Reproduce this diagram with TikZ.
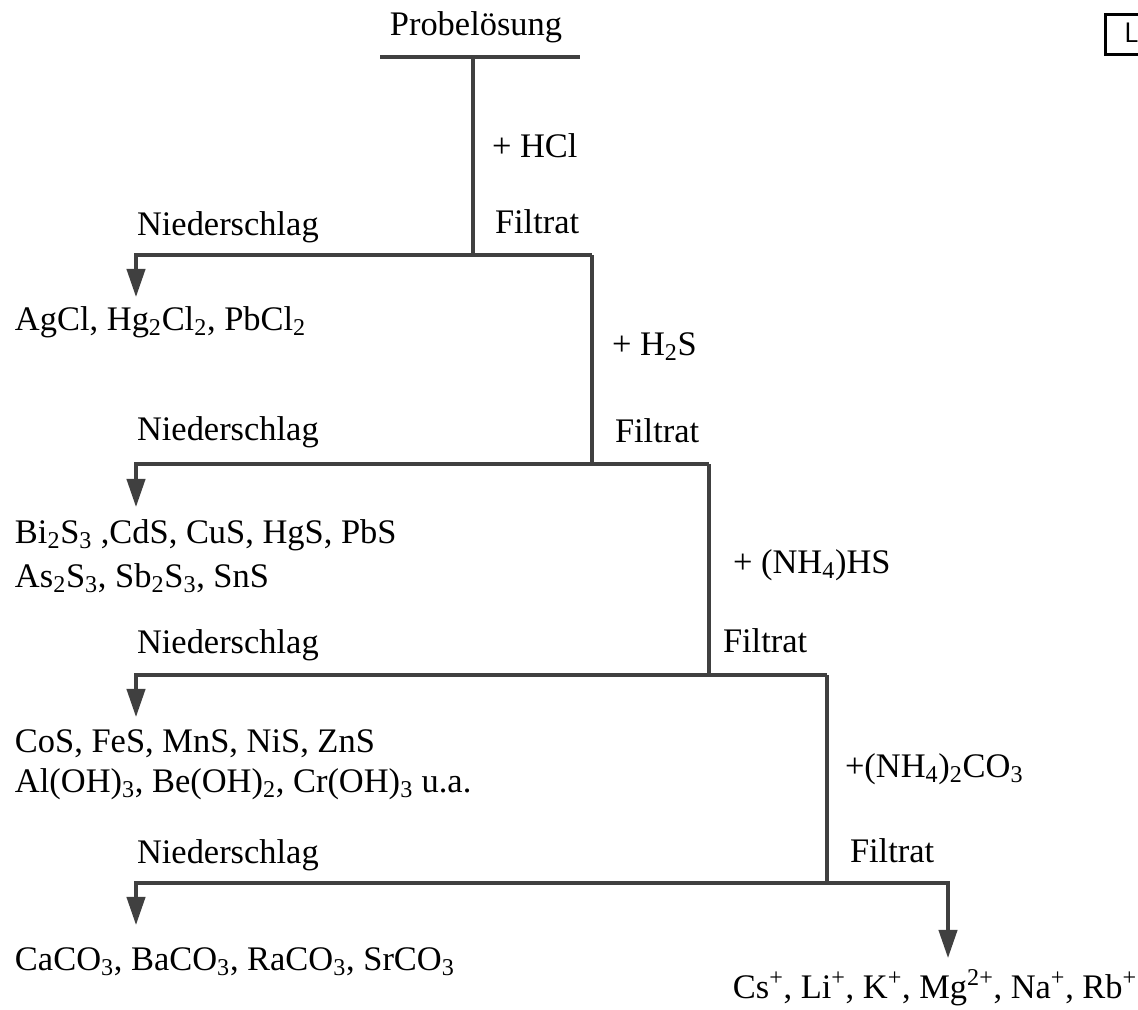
\documentclass[tikz,border=0pt]{standalone}
\usepackage{fontspec}
\setmainfont{Liberation Serif}
\usetikzlibrary{arrows.meta}
\newcommand{\lo}[1]{\textsubscript{#1}}
\newcommand{\hi}[1]{\textsuperscript{#1}}

\tikzset{
	txt/.style={inner sep=0,outer sep=0,font=\fontsize{24.5}{31}\selectfont},
	lft/.style={txt,anchor=base west,align=left},
	pipe/.style={draw=black!75,line width=2.5pt},
	fall/.style={pipe,-{Triangle[width=13pt,length=20pt]}}
}

\begin{document}
\begin{tikzpicture}[x=0.025cm,y=-0.025cm]
	\useasboundingbox (0,0) rectangle (1138,1009);
	\clip (0,0) rectangle (1138,1009);
	% corner mark
	\node[draw,line width=2.2pt,minimum width=40pt,minimum height=28.5pt,inner sep=0,anchor=north west] (corner) at (1104,13) {};
	\node[inner sep=0,anchor=base west,font=\sffamily\fontsize{20}{24}\selectfont] (cornerL) at (1124,42) {L};
	% start
	\node[txt,anchor=base] (probe) at (476,35) {Probelösung};
	\coordinate (u0) at (380,57);
	\coordinate (u1) at (580,57);
	\coordinate (a0) at (473,57);
	\coordinate (a1) at (473,255);
	\coordinate (b1) at (592,255);
	\coordinate (c1) at (136,255);
	\coordinate (c1e) at (136,297);
	\coordinate (b2) at (592,464);
	\coordinate (d2) at (709,464);
	\coordinate (c2) at (136,464);
	\coordinate (c2e) at (136,507);
	\coordinate (d3) at (709,675);
	\coordinate (e3) at (827,675);
	\coordinate (c3) at (136,675);
	\coordinate (c3e) at (136,717);
	\coordinate (e4) at (827,883);
	\coordinate (g4) at (948,883);
	\coordinate (c4) at (136,883);
	\coordinate (c4e) at (136,925);
	\coordinate (g4e) at (948,958);
	% reagents
	\node[lft] (hcl) at (492,157) {+ HCl};
	\node[lft] (hs) at (612,355) {+ H\lo{2}S};
	\node[lft] (nhs) at (733,573) {+ (NH\lo{4})HS};
	\node[lft] (nco) at (845,777) {+(NH\lo{4})\lo{2}CO\lo{3}};
	% labels
	\node[lft] (nied1) at (137,235) {Niederschlag};
	\node[lft] (fil1) at (495,233) {Filtrat};
	\node[lft] (nied2) at (137,440) {Niederschlag};
	\node[lft] (fil2) at (615,442) {Filtrat};
	\node[lft] (nied3) at (137,653) {Niederschlag};
	\node[lft] (fil3) at (723,652) {Filtrat};
	\node[lft] (nied4) at (137,863) {Niederschlag};
	\node[lft] (fil4) at (850,862) {Filtrat};
	% products
	\node[lft] (p1) at (15,330) {AgCl, Hg\lo{2}Cl\lo{2}, PbCl\lo{2}};
	\node[lft] (p2a) at (15,543) {Bi\lo{2}S\lo{3} ,CdS, CuS, HgS, PbS};
	\node[lft] (p2b) at (15,587) {As\lo{2}S\lo{3}, Sb\lo{2}S\lo{3}, SnS};
	\node[lft] (p3a) at (15,752) {CoS, FeS, MnS, NiS, ZnS};
	\node[lft] (p3b) at (15,792) {Al(OH)\lo{3}, Be(OH)\lo{2}, Cr(OH)\lo{3} u.a.};
	\node[lft] (p4) at (15,970) {CaCO\lo{3}, BaCO\lo{3}, RaCO\lo{3}, SrCO\lo{3}};
	\node[txt,anchor=base east] (p5) at (1137,998) {Cs\hi{+}, Li\hi{+}, K\hi{+}, Mg\hi{2+}, Na\hi{+}, Rb\hi{+}};
	% lines
	\draw[pipe] (u0) -- (u1);
	\draw[pipe] (a0) -- (a1);
	\draw[fall] (b1) -- (c1) -- (c1e);
	\draw[pipe] (b1) -- (b2);
	\draw[fall] (d2) -- (c2) -- (c2e);
	\draw[pipe] (d2) -- (d3);
	\draw[fall] (e3) -- (c3) -- (c3e);
	\draw[pipe] (e3) -- (e4);
	\draw[fall] (e4) -- (c4) -- (c4e);
	\draw[fall] (e4) -- (g4) -- (g4e);
\end{tikzpicture}
\end{document}
